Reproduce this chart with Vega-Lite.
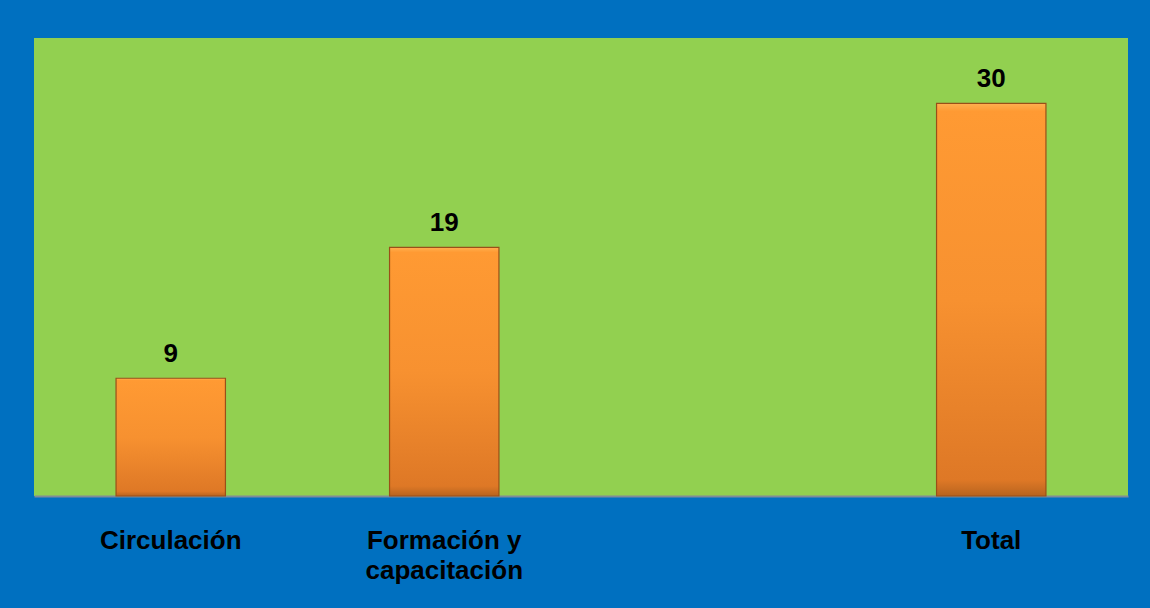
{
  "$schema": "https://vega.github.io/schema/vega-lite/v6.json",
  "autosize": {"type": "none"},
  "width": 1094,
  "height": 458,
  "padding": {"left": 34, "top": 38, "right": 22, "bottom": 112},
  "background": "#0070C0",
  "config": {
    "view": {"fill": "#92D050", "stroke": null},
    "font": "Liberation Sans"
  },
  "data": {
    "values": [
      {"categoria": "Circulación", "valor": 9},
      {"categoria": "Formación y capacitación", "valor": 19},
      {"categoria": "Total", "valor": 30}
    ]
  },
  "encoding": {
    "x": {
      "field": "categoria",
      "type": "nominal",
      "scale": {"domain": ["Circulación", "Formación y capacitación", "_", "Total"], "paddingInner": 0.6, "paddingOuter": 0.3},
      "axis": {
        "title": null,
        "labelAngle": 0,
        "labelFont": "Liberation Sans",
        "labelFontSize": 26,
        "labelFontWeight": "bold",
        "labelColor": "#000000",
        "labelPadding": 31,
        "labelLineHeight": 30,
        "labelBaseline": "top",
        "labelLimit": 400,
        "ticks": false,
        "domainColor": "#7F8C9A",
        "domainWidth": 2,
        "labelExpr": "datum.value == 'Formación y capacitación' ? ['Formación y', 'capacitación'] : (datum.value == '_' ? '' : datum.value)"
      }
    },
    "y": {
      "field": "valor",
      "type": "quantitative",
      "scale": {"domain": [0, 35]},
      "axis": null
    }
  },
  "layer": [
    {
      "mark": {
        "type": "bar",
        "stroke": "#9A4F18",
        "strokeWidth": 1.2,
        "color": {
          "gradient": "linear",
          "x1": 0, "y1": 0, "x2": 0, "y2": 1,
          "stops": [
            {"offset": 0, "color": "#FFB050"},
            {"offset": 0.02, "color": "#FF9A33"},
            {"offset": 0.5, "color": "#F79130"},
            {"offset": 0.96, "color": "#DE7826"},
            {"offset": 1, "color": "#B8641F"}
          ]
        }
      }
    },
    {
      "mark": {
        "type": "text",
        "baseline": "alphabetic",
        "dy": -16,
        "fontSize": 26,
        "fontWeight": "bold",
        "color": "#000000",
        "font": "Liberation Sans"
      },
      "encoding": {"text": {"field": "valor", "type": "quantitative"}}
    }
  ]
}
